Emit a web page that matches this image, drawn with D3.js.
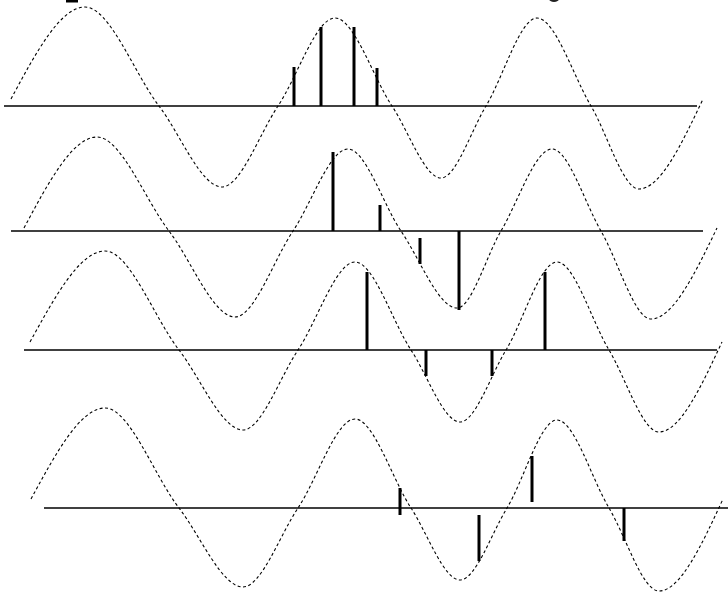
<!DOCTYPE html>
<html>
<head>
<meta charset="utf-8">
<script src="https://cdn.jsdelivr.net/npm/d3@7"></script>
<style>
  body { margin: 0; background: #fff; }
  svg { display: block; }
</style>
</head>
<body>
<div class="chart"></div>
<script>
// wave key points per row: t (time units) and amplitude
var waveT1 = [0.11, 0.85, 1.59, 2.22, 2.78, 3.35, 3.92, 4.41, 4.86, 5.37, 5.91, 6.39, 7.03];
var waveA1 = [0.07, 0.99, 0, -0.81, 0, 0.88, 0, -0.72, 0, 0.88, 0, -0.83, 0.07];
var waveT2 = [0.24, 0.97, 1.69, 2.35, 2.93, 3.48, 4.01, 4.57, 5.01, 5.52, 6.01, 6.51, 7.17];
var waveA2 = [0.03, 0.94, 0, -0.86, 0, 0.82, 0, -0.77, 0, 0.82, 0, -0.88, 0.03];
var waveT3 = [0.30, 1.05, 1.79, 2.43, 2.98, 3.55, 4.11, 4.60, 5.06, 5.57, 6.09, 6.59, 7.22];
var waveA3 = [0.08, 0.99, 0, -0.80, 0, 0.88, 0, -0.72, 0, 0.88, 0, -0.82, 0.08];
var waveT4 = [0.31, 1.05, 1.79, 2.43, 2.98, 3.55, 4.11, 4.60, 5.07, 5.57, 6.09, 6.59, 7.23];
var waveA4 = [0.09, 1.00, 0, -0.79, 0, 0.89, 0, -0.72, 0, 0.88, 0, -0.83, 0.09];

// sample stems per row: time, start and end amplitude
var stemT1 = [2.94, 3.21, 3.54, 3.77];
var stemFrom1 = [0, 0, 0, 0];
var stemTo1 = [0.39, 0.79, 0.79, 0.38];
var stemT2 = [3.33, 3.80, 4.20, 4.59];
var stemFrom2 = [0, 0, -0.07, 0];
var stemTo2 = [0.79, 0.26, -0.33, -0.79];
var stemT3 = [3.67, 4.26, 4.92, 5.45];
var stemFrom3 = [0, 0, 0, 0];
var stemTo3 = [0.78, -0.26, -0.26, 0.78];
var stemT4 = [4.00, 4.79, 5.32, 6.24];
var stemFrom4 = [0.20, -0.07, 0.52, 0];
var stemTo4 = [-0.07, -0.53, 0.06, -0.33];

// time extent of each baseline
var axisStart = [0.04, 0.11, 0.24, 0.44];
var axisEnd = [6.97, 7.03, 7.17, 7.30];

var width = 728, height = 592;
var baselines = [106, 231, 350, 508];

var waveT = [waveT1, waveT2, waveT3, waveT4];
var waveA = [waveA1, waveA2, waveA3, waveA4];
var stemT = [stemT1, stemT2, stemT3, stemT4];
var stemFrom = [stemFrom1, stemFrom2, stemFrom3, stemFrom4];
var stemTo = [stemTo1, stemTo2, stemTo3, stemTo4];

var x = d3.scaleLinear()
    .domain([0, 7.28])
    .range([0, width]);

var svg = d3.select('.chart')
    .append('svg')
    .attr('width', width)
    .attr('height', height);

// clipped marks peeking in at the top edge
svg.append('rect')
    .attr('x', 66).attr('y', -1)
    .attr('width', 12).attr('height', 3.5)
    .attr('fill', '#000');
svg.append('ellipse')
    .attr('cx', 554).attr('cy', -1)
    .attr('rx', 5).attr('ry', 3)
    .attr('fill', '#222');

baselines.forEach((base, r) => {
    var y = d3.scaleLinear()
        .domain([-1, 1])
        .range([base + 100, base - 100]);

    var g = svg.append('g');

    // baseline
    g.append('line')
        .attr('x1', x(axisStart[r]))
        .attr('x2', x(axisEnd[r]))
        .attr('y1', y(0))
        .attr('y2', y(0))
        .attr('stroke', '#000')
        .attr('stroke-width', 1.5);

    // dashed wave
    var pts = waveT[r].map((t, i) => [t, waveA[r][i]]);
    var line = d3.line()
        .x(d => x(d[0]))
        .y(d => y(d[1]))
        .curve(d3.curveMonotoneX);
    g.append('path')
        .attr('d', line(pts))
        .attr('fill', 'none')
        .attr('stroke', '#000')
        .attr('stroke-width', 1.1)
        .attr('stroke-dasharray', '3,2.5');

    // stems
    g.selectAll('line.stem')
        .data(stemT[r])
        .enter()
        .append('line')
        .attr('class', 'stem')
        .attr('x1', d => x(d))
        .attr('x2', d => x(d))
        .attr('y1', (d, i) => y(stemFrom[r][i]))
        .attr('y2', (d, i) => y(stemTo[r][i]))
        .attr('stroke', '#000')
        .attr('stroke-width', 3);
});
</script>
</body>
</html>
